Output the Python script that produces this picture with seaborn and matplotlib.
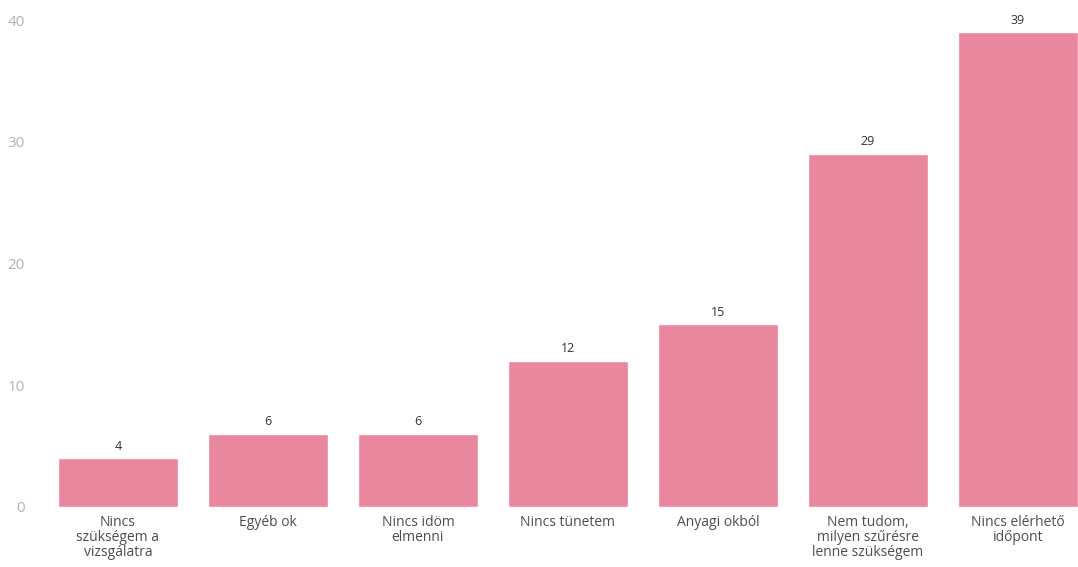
import matplotlib
matplotlib.use("Agg")
import matplotlib.pyplot as plt
import seaborn as sns
import pandas as pd

categories = [
    "Nincs\nszükségem a\nvizsgálatra",
    "Egyéb ok",
    "Nincs idöm\nelmenni",
    "Nincs tünetem",
    "Anyagi okból",
    "Nem tudom,\nmilyen szűrésre\nlenne szükségem",
    "Nincs elérhető\nidőpont",
]
values = [4, 6, 6, 12, 15, 29, 39]
y_ticks = [0, 10, 20, 30, 40]

bar_color = "#E8879D"

sns.set_theme(style="white")
plt.rcParams["font.family"] = ["Open Sans", "DejaVu Sans"]

df = pd.DataFrame({"reason": categories, "count": values})

fig = plt.figure(figsize=(10.78, 5.67), dpi=100)
ax = fig.add_axes([43 / 1078, 60 / 567, 1 - 43 / 1078, 487 / 567])

sns.barplot(data=df, x="reason", y="count", color=bar_color, width=0.8,
            saturation=1, ax=ax)

for container in ax.containers:
    ax.bar_label(container, padding=4, fontsize=9, color="#333333", clip_on=False)

ax.set_xlim(-0.5, 6.4)
ax.set_ylim(0, 40)
ax.set_yticks(y_ticks)
ax.set_xlabel("")
ax.set_ylabel("")
ax.tick_params(axis="y", length=0, pad=13, labelsize=11, labelcolor="#b3b3b3")
ax.tick_params(axis="x", length=0, pad=6, labelsize=10, labelcolor="#4d4d4d")
for lbl in ax.get_xticklabels():
    lbl.set_linespacing(1.0)
sns.despine(ax=ax, left=True, bottom=True)

fig.savefig("out.png", dpi=100)
